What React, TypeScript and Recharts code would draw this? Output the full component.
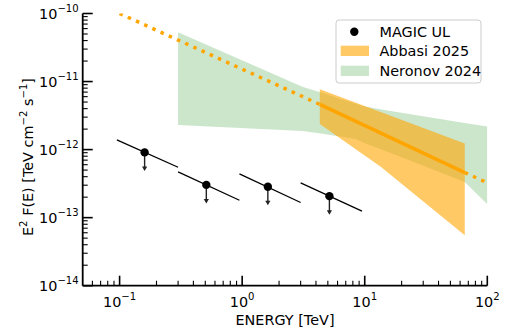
import React from 'react';
import { ComposedChart, Line, Area, XAxis, YAxis } from 'recharts';

const W = 509;
const H = 331;
const FONT = '"DejaVu Sans", sans-serif';
const FS = 14.4;
const FS_SUP = 10.1;

// ---- axis ticks ----
const xMajorTicks = [0.1, 1, 10, 100];
const xMajorExp = ['\u22121', '0', '1', '2'];
const xMinorTicks = [0.06, 0.07, 0.08, 0.09, 0.2, 0.3, 0.4, 0.5, 0.6, 0.7, 0.8, 0.9, 2, 3, 4, 5, 6, 7, 8, 9, 20, 30, 40, 50, 60, 70, 80, 90];
const yMajorTicks = [1e-14, 1e-13, 1e-12, 1e-11, 1e-10];
const yMajorExp = ['\u221214', '\u221213', '\u221212', '\u221211', '\u221210'];
const yMinorTicks = [
  2e-14, 3e-14, 4e-14, 5e-14, 6e-14, 7e-14, 8e-14, 9e-14,
  2e-13, 3e-13, 4e-13, 5e-13, 6e-13, 7e-13, 8e-13, 9e-13,
  2e-12, 3e-12, 4e-12, 5e-12, 6e-12, 7e-12, 8e-12, 9e-12,
  2e-11, 3e-11, 4e-11, 5e-11, 6e-11, 7e-11, 8e-11, 9e-11,
];
const xDomain = [0.05, 100];
const yDomain = [1e-14, 1e-10];

// ---- MAGIC upper limits ----
const magicE = [0.16, 0.51, 1.62, 5.15];
const magicUL = [9.1e-13, 3.03e-13, 2.84e-13, 2.07e-13];
const magicSegE = [[0.095, 0.3], [0.3, 0.95], [0.95, 3.0], [3.0, 9.5]];
const magicSegF = [[1.39e-12, 5.5e-13], [4.7e-13, 1.8e-13], [4.4e-13, 1.67e-13], [3.25e-13, 1.25e-13]];

// ---- Abbasi 2025 ----
const abbasiE = [4.3, 13.5, 65.5];
const abbasiLo = [2.37e-12, 5.6e-13, 5.5e-14];
const abbasiHi = [7.7e-12, 3.56e-12, 1.23e-12];
const abbasiFitE = [4.3, 65.5];
const abbasiFitF = [4.62e-12, 4.6e-13];
const abbasiExtLowE = [0.1, 4.3];
const abbasiExtLowF = [1.0e-10, 4.62e-12];
const abbasiExtHighE = [65.5, 100];
const abbasiExtHighF = [4.6e-13, 3.25e-13];

// ---- Neronov 2024 ----
const neronovE = [0.3, 3.1, 4.4, 8.4, 10, 16.7, 65.5, 100];
const neronovLo = [2.29e-12, 1.88e-12, 1.73e-12, 1.43e-12, 1.24e-12, 8.8e-13, 3.33e-13, 1.58e-13];
const neronovHi = [5.3e-11, 8.4e-12, 6.9e-12, 4.73e-12, 4.3e-12, 3.65e-12, 2.46e-12, 2.18e-12];

const ORANGE = '#FFA500';
const GREEN = '#008000';

const pts = (xs: number[], ys: number[]) => xs.map((x, i) => ({ x, y: ys[i] }));
const band = (xs: number[], lo: number[], hi: number[]) => xs.map((x, i) => ({ x, r: [lo[i], hi[i]] }));

const neronovData = band(neronovE, neronovLo, neronovHi);
const abbasiData = band(abbasiE, abbasiLo, abbasiHi);
const magicData = pts(magicE, magicUL);

const BottomTick = (props: any) => {
  const { x, y, payload } = props;
  const i = xMajorTicks.indexOf(payload.value);
  const major = i >= 0;
  return (
    <g>
      <line x1={x} x2={x} y1={y} y2={y - (major ? 10 : 5)} stroke="#000" strokeWidth={major ? 1.6 : 1.1} />
      {major && (
        <text x={x} y={y + 21} textAnchor="middle" fontSize={FS} fontFamily={FONT} fill="#000">
          10<tspan dy={-7} fontSize={FS_SUP}>{xMajorExp[i]}</tspan>
        </text>
      )}
    </g>
  );
};

const TopTick = (props: any) => {
  const { x, y, payload } = props;
  const major = xMajorTicks.indexOf(payload.value) >= 0;
  return <line x1={x} x2={x} y1={y} y2={y + (major ? 10 : 5)} stroke="#000" strokeWidth={major ? 1.6 : 1.1} />;
};

const LeftTick = (props: any) => {
  const { x, y, payload } = props;
  const i = yMajorTicks.indexOf(payload.value);
  const major = i >= 0;
  return (
    <g>
      <line x1={x} x2={x + (major ? 10 : 5)} y1={y} y2={y} stroke="#000" strokeWidth={major ? 1.6 : 1.1} />
      {major && (
        <text x={x - 4} y={y + 5} textAnchor="end" fontSize={FS} fontFamily={FONT} fill="#000">
          10<tspan dy={-7} fontSize={FS_SUP}>{yMajorExp[i]}</tspan>
        </text>
      )}
    </g>
  );
};

const RightTick = (props: any) => {
  const { x, y, payload } = props;
  const major = yMajorTicks.indexOf(payload.value) >= 0;
  return <line x1={x} x2={x - (major ? 10 : 5)} y1={y} y2={y} stroke="#000" strokeWidth={major ? 1.6 : 1.1} />;
};

const ULDot = (props: any) => {
  const { cx, cy } = props;
  if (cx == null || cy == null) return null;
  return (
    <g>
      <line x1={cx} x2={cx} y1={cy} y2={cy + 15} stroke="#222" strokeWidth={1.4} />
      <path d={`M${cx - 2.6},${cy + 14} L${cx + 2.6},${cy + 14} L${cx},${cy + 18.5} Z`} fill="#222" />
      <circle cx={cx} cy={cy} r={4.2} fill="#000" />
    </g>
  );
};

const xLabel = () => (
  <text x={285} y={325} textAnchor="middle" fontSize={FS} fontFamily={FONT} fill="#000">
    ENERGY [TeV]
  </text>
);

const yLabel = () => (
  <text x={33} y={157} transform="rotate(-90 33 157)" textAnchor="middle" fontSize={FS} fontFamily={FONT} fill="#000">
    E<tspan dy={-6} fontSize={FS_SUP}>2</tspan>
    <tspan dy={6}>{' F(E) [TeV cm'}</tspan>
    <tspan dy={-6} fontSize={FS_SUP}>{'\u22122'}</tspan>
    <tspan dy={6}>{' s'}</tspan>
    <tspan dy={-6} fontSize={FS_SUP}>{'\u22121'}</tspan>
    <tspan dy={6}>]</tspan>
  </text>
);

const allX = [...xMajorTicks, ...xMinorTicks];
const allY = [...yMajorTicks, ...yMinorTicks];
const axisLine = { stroke: '#000', strokeWidth: 1.8 };

const Legend = () => (
  <svg width={W} height={H} style={{ position: 'absolute', left: 0, top: 0, pointerEvents: 'none' }}>
    <rect x={336} y={20} width={145} height={63} rx={3} ry={3} fill="#fff" fillOpacity={0.8} stroke="#cccccc" strokeWidth={1} />
    <circle cx={354.3} cy={31.7} r={4.2} fill="#000" />
    <text x={379.5} y={36.5} fontSize={FS} fontFamily={FONT} fill="#000">MAGIC UL</text>
    <rect x={340.7} y={45.7} width={28.3} height={10.3} fill={ORANGE} fillOpacity={0.6} />
    <text x={379.5} y={56.3} fontSize={FS} fontFamily={FONT} fill="#000">Abbasi 2025</text>
    <rect x={340.7} y={65.7} width={28.3} height={10.3} fill={GREEN} fillOpacity={0.2} />
    <text x={379.5} y={76.2} fontSize={FS} fontFamily={FONT} fill="#000">Neronov 2024</text>
  </svg>
);

export default function App() {
  return (
    <div style={{ position: 'absolute', left: 0, top: 0, width: W, height: H, background: '#fff', fontFamily: FONT }}>
      <ComposedChart width={W} height={H} margin={{ top: 13.5, right: 21.7, bottom: 0, left: 0 }}>
        <XAxis
          xAxisId="b"
          dataKey="x"
          type="number"
          scale="log"
          domain={xDomain}
          allowDataOverflow
          ticks={allX}
          interval={0}
          tick={<BottomTick />}
          tickLine={false}
          tickSize={0}
          tickMargin={0}
          axisLine={axisLine}
          height={45.3}
          label={xLabel}
        />
        <XAxis
          xAxisId="t"
          orientation="top"
          dataKey="x"
          type="number"
          scale="log"
          domain={xDomain}
          allowDataOverflow
          ticks={allX}
          interval={0}
          tick={<TopTick />}
          tickLine={false}
          tickSize={0}
          tickMargin={0}
          axisLine={axisLine}
          height={0}
        />
        <YAxis
          yAxisId="l"
          dataKey="y"
          type="number"
          scale="log"
          domain={yDomain}
          allowDataOverflow
          ticks={allY}
          interval={0}
          tick={<LeftTick />}
          tickLine={false}
          tickSize={0}
          tickMargin={0}
          axisLine={axisLine}
          width={82.7}
          label={yLabel}
        />
        <YAxis
          yAxisId="r"
          orientation="right"
          dataKey="y"
          type="number"
          scale="log"
          domain={yDomain}
          allowDataOverflow
          ticks={allY}
          interval={0}
          tick={<RightTick />}
          tickLine={false}
          tickSize={0}
          tickMargin={0}
          axisLine={axisLine}
          width={0}
        />
        <Area
          xAxisId="b"
          yAxisId="l"
          data={neronovData}
          dataKey="r"
          type="linear"
          fill={GREEN}
          fillOpacity={0.2}
          stroke="none"
          isAnimationActive={false}
          activeDot={false}
          dot={false}
        />
        <Area
          xAxisId="b"
          yAxisId="l"
          data={abbasiData}
          dataKey="r"
          type="linear"
          fill={ORANGE}
          fillOpacity={0.6}
          stroke="none"
          isAnimationActive={false}
          activeDot={false}
          dot={false}
        />
        <Line xAxisId="b" yAxisId="l" data={pts(abbasiExtLowE, abbasiExtLowF)} dataKey="y" type="linear" stroke={ORANGE} strokeWidth={3.5} strokeDasharray="3.5 5.5" dot={false} activeDot={false} isAnimationActive={false} />
        <Line xAxisId="b" yAxisId="l" data={pts(abbasiExtHighE, abbasiExtHighF)} dataKey="y" type="linear" stroke={ORANGE} strokeWidth={3.5} strokeDasharray="3.5 5.5" dot={false} activeDot={false} isAnimationActive={false} />
        <Line xAxisId="b" yAxisId="l" data={pts(abbasiFitE, abbasiFitF)} dataKey="y" type="linear" stroke={ORANGE} strokeWidth={3.5} dot={false} activeDot={false} isAnimationActive={false} />
        {magicSegE.map((seg, i) => (
          <Line
            key={`seg${i}`}
            xAxisId="b"
            yAxisId="l"
            data={pts(seg, magicSegF[i])}
            dataKey="y"
            type="linear"
            stroke="#000"
            strokeWidth={1.3}
            dot={false}
            activeDot={false}
            isAnimationActive={false}
          />
        ))}
        <Line xAxisId="b" yAxisId="l" data={magicData} dataKey="y" type="linear" stroke="none" dot={<ULDot />} activeDot={false} isAnimationActive={false} />
      </ComposedChart>
      <Legend />
    </div>
  );
}
